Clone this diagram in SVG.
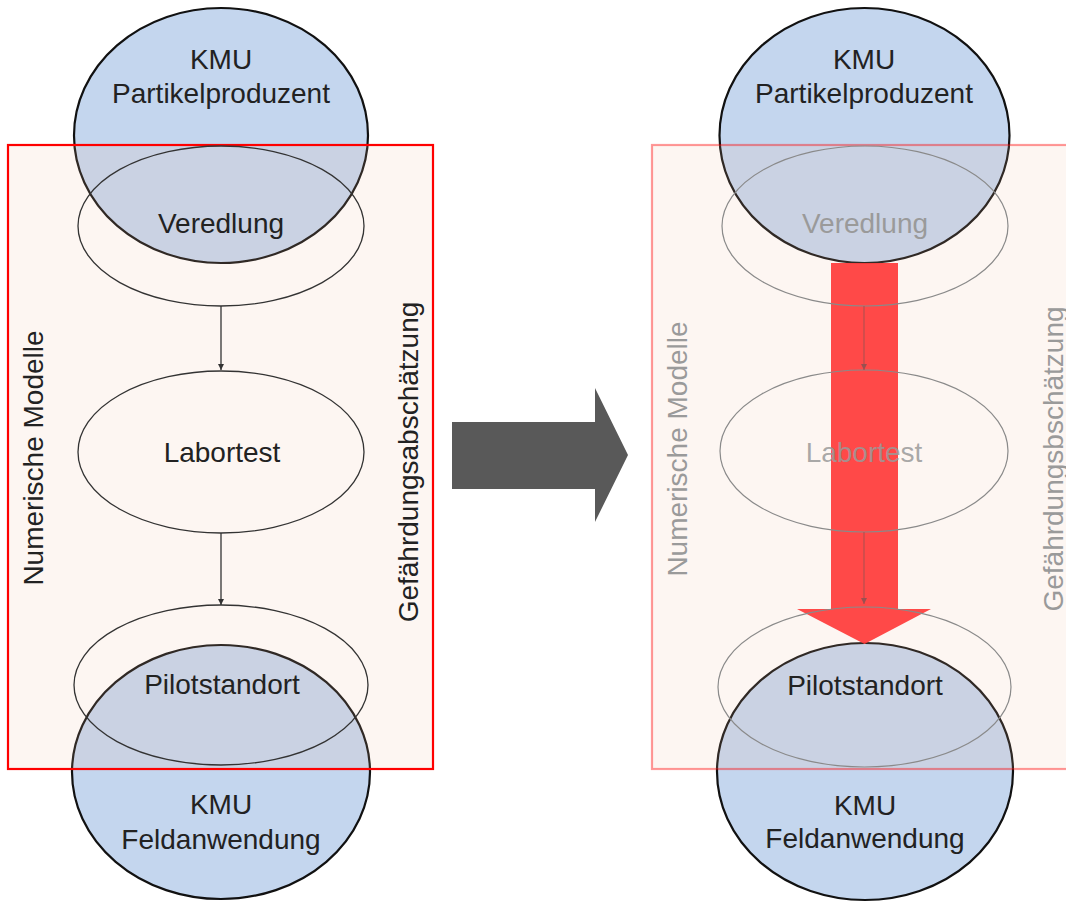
<svg xmlns="http://www.w3.org/2000/svg" width="1066" height="902" viewBox="0 0 1066 902">
<style>
  text { font-family: "Liberation Sans", Arial, sans-serif; font-size: 28px; text-anchor: middle; }
  .dark { fill: #222222; }
  .faded { fill: #9a9a9a; }
  .blue { fill: #c4d6ee; stroke: #111111; stroke-width: 2.2; }
  .tint { fill: rgb(241,191,162); fill-opacity: 0.14; }
  .step { fill: none; stroke: #333333; stroke-width: 1.3; }
  .stepf { fill: none; stroke: #8a8a8a; stroke-width: 1.2; }
  .conn { stroke: #333333; stroke-width: 1.3; fill: none; }
  .connf { stroke: #9a5050; stroke-width: 1.1; fill: none; stroke-opacity: 0.8; }
</style>
<defs>
  <marker id="ah" viewBox="0 0 10 10" refX="10" refY="5" markerWidth="6" markerHeight="7" markerUnits="userSpaceOnUse" orient="auto">
    <path d="M0,0 L10,5 L0,10 Z" fill="#333333"/>
  </marker>
  <marker id="ahf" viewBox="0 0 10 10" refX="10" refY="5" markerWidth="6" markerHeight="7" markerUnits="userSpaceOnUse" orient="auto">
    <path d="M0,0 L10,5 L0,10 Z" fill="#9a5050"/>
  </marker>
</defs>

<rect width="1066" height="902" fill="#ffffff"/>

<!-- LEFT PANEL -->
<g id="left-panel">
  <g id="l-kmu-top"><ellipse class="blue" cx="221" cy="135.5" rx="147" ry="127.5"/></g>
  <g id="l-kmu-bottom"><ellipse class="blue" cx="221" cy="772" rx="149" ry="127"/></g>
  <g id="l-frame">
    <rect class="tint" x="8" y="145" width="425" height="624"/>
    <rect x="8" y="145" width="425" height="624" fill="none" stroke="#ff0000" stroke-width="2.2"/>
  </g>
  <g id="l-veredlung">
    <ellipse class="step" cx="221" cy="226" rx="143" ry="80"/>
    <text class="dark" x="221" y="233">Veredlung</text>
  </g>
  <g id="l-labortest">
    <ellipse class="step" cx="221" cy="452" rx="143" ry="81"/>
    <text class="dark" x="222" y="462">Labortest</text>
  </g>
  <g id="l-pilot">
    <ellipse class="step" cx="221" cy="685" rx="147" ry="80"/>
    <text class="dark" x="222" y="694">Pilotstandort</text>
  </g>
  <g id="l-labels-top">
    <text class="dark" x="221" y="69">KMU</text>
    <text class="dark" x="221" y="103">Partikelproduzent</text>
  </g>
  <g id="l-labels-bottom">
    <text class="dark" x="221" y="814">KMU</text>
    <text class="dark" x="221" y="849">Feldanwendung</text>
  </g>
  <g id="l-numerische"><text class="dark" transform="translate(43,458) rotate(-90)">Numerische Modelle</text></g>
  <g id="l-gefaehrdung"><text class="dark" transform="translate(418,462) rotate(-90)">Gefährdungsabschätzung</text></g>
  <g id="l-connectors">
    <line class="conn" x1="221" y1="306" x2="221" y2="370" marker-end="url(#ah)"/>
    <line class="conn" x1="221" y1="533" x2="221" y2="605" marker-end="url(#ah)"/>
  </g>
</g>

<!-- TRANSITION ARROW -->
<g id="transition-arrow">
  <polygon points="452,422 595,422 595,388 628,455 595,522 595,489 452,489" fill="#595959"/>
</g>

<!-- RIGHT PANEL -->
<g id="right-panel">
  <g id="r-kmu-top"><ellipse class="blue" cx="864.5" cy="135.5" rx="145" ry="127.5"/></g>
  <g id="r-kmu-bottom"><ellipse class="blue" cx="865" cy="771.5" rx="148" ry="128.5"/></g>
  <g id="r-frame">
    <rect class="tint" x="652" y="145" width="430" height="624"/>
    <rect x="652" y="145" width="430" height="624" fill="none" stroke="#ff0000" stroke-opacity="0.4" stroke-width="2.2"/>
  </g>
  <g id="r-big-arrow">
    <polygon points="831,263 898,263 898,609 931,609 864.5,644 797,609 831,609" fill="#ff3b3b" fill-opacity="0.93"/>
  </g>
  <g id="r-veredlung">
    <ellipse class="stepf" cx="865" cy="226" rx="143" ry="80"/>
    <text class="faded" x="865" y="233">Veredlung</text>
  </g>
  <g id="r-labortest">
    <ellipse class="stepf" cx="864" cy="451" rx="144" ry="81"/>
    <text class="faded" x="864" y="462" fill-opacity="0.85">Labortest</text>
  </g>
  <g id="r-pilot">
    <ellipse class="stepf" cx="864.5" cy="687" rx="146.5" ry="80"/>
    <text class="dark" x="865" y="695">Pilotstandort</text>
  </g>
  <g id="r-labels-top">
    <text class="dark" x="864" y="69">KMU</text>
    <text class="dark" x="864" y="103">Partikelproduzent</text>
  </g>
  <g id="r-labels-bottom">
    <text class="dark" x="865" y="815">KMU</text>
    <text class="dark" x="865" y="848">Feldanwendung</text>
  </g>
  <g id="r-numerische"><text class="faded" transform="translate(687,449) rotate(-90)">Numerische Modelle</text></g>
  <g id="r-gefaehrdung"><text class="faded" transform="translate(1063,459) rotate(-90)">Gefährdungsbschätzung</text></g>
  <g id="r-connectors">
    <line class="connf" x1="864" y1="306" x2="864" y2="370" marker-end="url(#ahf)"/>
    <line class="connf" x1="864" y1="532" x2="864" y2="604" marker-end="url(#ahf)"/>
  </g>
</g>
</svg>
